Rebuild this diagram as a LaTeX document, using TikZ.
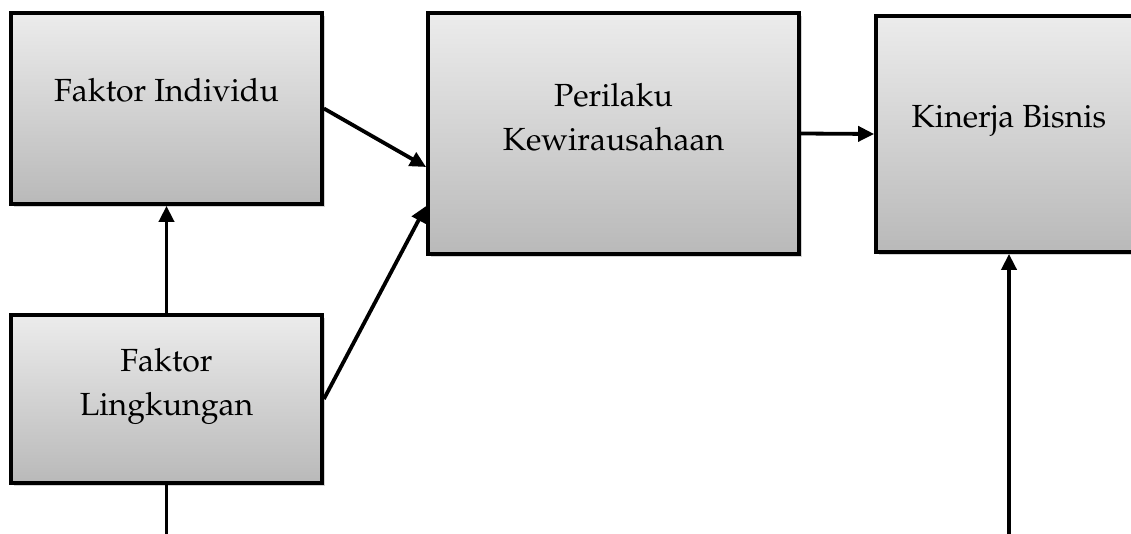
\documentclass[tikz,border=0pt]{standalone}
\usepackage[T1]{fontenc}
\renewcommand{\rmdefault}{ppl}
\usetikzlibrary{arrows.meta,shadows,calc}
\begin{document}
\begin{tikzpicture}[x=1pt,y=-1pt,
  boxstyle/.style={draw=black, line width=3.8pt, rectangle, inner sep=0pt,
    top color=gray!15, bottom color=gray!55,
    drop shadow={shadow xshift=2.5pt, shadow yshift=-3pt, opacity=0.35, fill=gray}},
  txt/.style={font=\fontsize{32}{44}\selectfont, inner sep=0pt, anchor=base},
  conn/.style={line width=3.8pt, draw=black},
  arr/.style={conn, -{Triangle[length=16pt,width=15pt]}}]
\clip (0,0) rectangle (1131,534);
\node[boxstyle, minimum width=311pt, minimum height=191pt] (ind) at (166.5,108.5) {};
\node[boxstyle, minimum width=311pt, minimum height=168pt] (lin) at (166.5,399) {};
\node[boxstyle, minimum width=371pt, minimum height=241pt] (per) at (613.5,133.5) {};
\node[boxstyle, minimum width=266pt, minimum height=236pt] (kin) at (1009,134) {};
\node[txt] (indt) at (166.5,102) {Faktor Individu};
\node[txt] (lint) at (166.5,371) {\begin{tabular}[t]{@{}c@{}}Faktor\\Lingkungan\end{tabular}};
\node[txt] (pert) at (613.5,107) {\begin{tabular}[t]{@{}c@{}}Perilaku\\Kewirausahaan\end{tabular}};
\node[txt] (kint) at (1009,128) {Kinerja Bisnis};
\coordinate (linout) at (166.5,545);
\coordinate (kinin) at (1009,545);
\draw[arr] (lin.north) -- (ind.south);
\draw[conn] (lin.south) -- (linout);
\draw[arr] (ind.east) -- ($(per.west)+(0,33.5)$);
\draw[arr] (lin.east) -- ($(per.west)+(0,72.5)$);
\draw[arr] (per.east) -- (kin.west);
\draw[arr] (kinin) -- (kin.south);
\end{tikzpicture}
\end{document}
